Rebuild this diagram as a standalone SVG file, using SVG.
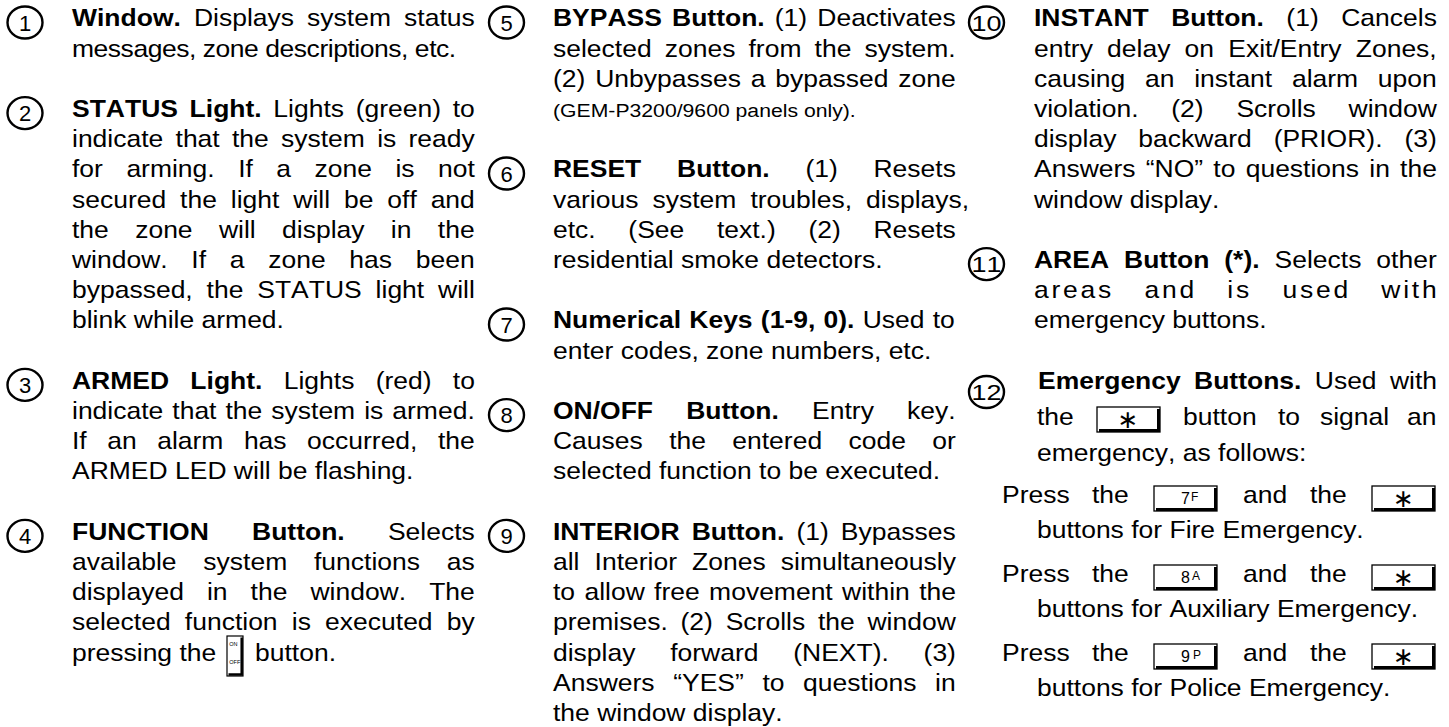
<svg xmlns="http://www.w3.org/2000/svg" width="1449" height="727" viewBox="0 0 1449 727">
<style>
text { font-family: "Liberation Sans", Arial, Helvetica, sans-serif; fill: #000; font-kerning: none; }
.t { font-size: 24px; }
.b { font-weight: bold; }
.sm { font-size: 19.2px; }
.num { font-size: 22px; text-anchor: middle; }
.ring { fill: none; stroke: #000; stroke-width: 2.4; }
.kbody { fill: #fff; stroke: #000; stroke-width: 1.3; }
.kedge { fill: none; stroke: #000; stroke-width: 3; }
.klbl { font-size: 16px; }
.klet { font-size: 12px; }
.star { font-family: "DejaVu Sans", sans-serif; font-size: 25px; text-anchor: middle; dominant-baseline: central; }
.tiny { font-size: 5.5px; }
</style>
<defs>
  <g id="keybox">
    <rect class="kbody" x="0" y="0" width="63" height="25"/>
    <path class="kedge" d="M2 23.5 H61.5 V2"/>
  </g>
</defs>
<rect width="1449" height="727" fill="#fff"/>
<g id="connectors"></g>

<!-- LEFT COLUMN -->
<g id="item-1">
  <ellipse class="ring" cx="25" cy="22.5" rx="17.5" ry="16"/>
  <text class="num" x="25" y="30.5">1</text>
  <g transform="translate(72,0) scale(1.104,1)">
    <text class="t" y="26.5" word-spacing="5.2"><tspan class="b">Window.</tspan> Displays system status</text>
    <text class="t" y="56.7" textLength="348" lengthAdjust="spacing">messages, zone descriptions, etc.</text>
  </g>
</g>
<g id="item-2">
  <ellipse class="ring" cx="25" cy="113.1" rx="17.5" ry="16"/>
  <text class="num" x="25" y="121.1">2</text>
  <g transform="translate(72,0) scale(1.104,1)">
    <text class="t" y="117.1" word-spacing="3.9"><tspan class="b">STATUS Light.</tspan> Lights (green) to</text>
    <text class="t" y="147.3" word-spacing="4.44">indicate that the system is ready</text>
    <text class="t" y="177.5" word-spacing="14.6">for arming. If a zone is not</text>
    <text class="t" y="207.7" word-spacing="5.92">secured the light will be off and</text>
    <text class="t" y="237.9" word-spacing="17.2">the zone will display in the</text>
    <text class="t" y="268.1" word-spacing="14.8">window. If a zone has been</text>
    <text class="t" y="298.3" word-spacing="5.9">bypassed, the STATUS light will</text>
    <text class="t" y="328.5">blink while armed.</text>
  </g>
</g>
<g id="item-3">
  <ellipse class="ring" cx="25" cy="384.9" rx="17.5" ry="16"/>
  <text class="num" x="25" y="392.9">3</text>
  <g transform="translate(72,0) scale(1.104,1)">
    <text class="t" y="388.9" word-spacing="12.6"><tspan class="b">ARMED Light.</tspan> Lights (red) to</text>
    <text class="t" y="419.1" word-spacing="1.5">indicate that the system is armed.</text>
    <text class="t" y="449.3" word-spacing="11.9">If an alarm has occurred, the</text>
    <text class="t" y="479.5">ARMED LED will be flashing.</text>
  </g>
</g>
<g id="item-4">
  <ellipse class="ring" cx="25" cy="535.9" rx="17.5" ry="16"/>
  <text class="num" x="25" y="543.9">4</text>
  <g transform="translate(72,0) scale(1.104,1)">
    <text class="t" y="539.9" word-spacing="32.5"><tspan class="b">FUNCTION Button.</tspan> Selects</text>
    <text class="t" y="570.1" word-spacing="17.6">available system functions as</text>
    <text class="t" y="600.3" word-spacing="14.2">displayed in the window. The</text>
    <text class="t" y="630.5" word-spacing="6.2">selected function is executed by</text>
    <text class="t" y="660.7">pressing the</text>
    <text class="t" x="165.8" y="660.7">button.</text>
  </g>
  <g id="onoff-icon">
    <rect x="227" y="636" width="16" height="40" fill="#fff" stroke="#000" stroke-width="1.2"/>
    <path d="M228.5 674.5 H241.7 V637.5" fill="none" stroke="#000" stroke-width="2.5"/>
    <text class="tiny" x="229.3" y="646">ON</text>
    <text class="tiny" x="229.3" y="664">OFF</text>
  </g>
</g>

<!-- MIDDLE COLUMN -->
<g id="item-5">
  <ellipse class="ring" cx="506.5" cy="22.5" rx="17.5" ry="16"/>
  <text class="num" x="506.5" y="30.5">5</text>
  <g transform="translate(553,0) scale(1.104,1)">
    <text class="t" y="26.5" word-spacing="2.5"><tspan class="b">BYPASS Button.</tspan> (1) Deactivates</text>
    <text class="t" y="56.7" word-spacing="5.2">selected zones from the system.</text>
    <text class="t" y="86.9" word-spacing="2.2">(2) Unbypasses a bypassed zone</text>
    <text class="sm" y="117.1">(GEM-P3200/9600 panels only).</text>
  </g>
</g>
<g id="item-6">
  <ellipse class="ring" cx="506.5" cy="173.5" rx="17.5" ry="16"/>
  <text class="num" x="506.5" y="181.5">6</text>
  <g transform="translate(553,0) scale(1.104,1)">
    <text class="t" y="177.5" word-spacing="25.7"><tspan class="b">RESET Button.</tspan> (1) Resets</text>
    <text class="t" y="207.7" word-spacing="6.1">various system troubles, displays,</text>
    <text class="t" y="237.9" word-spacing="22.9">etc. (See text.) (2) Resets</text>
    <text class="t" y="268.1">residential smoke detectors.</text>
  </g>
</g>
<g id="item-7">
  <ellipse class="ring" cx="506.5" cy="324.5" rx="17.5" ry="16"/>
  <text class="num" x="506.5" y="332.5">7</text>
  <g transform="translate(553,0) scale(1.104,1)">
    <text class="t" y="328.5" word-spacing="0.8"><tspan class="b">Numerical Keys (1-9, 0).</tspan> Used to</text>
    <text class="t" y="358.7">enter codes, zone numbers, etc.</text>
  </g>
</g>
<g id="item-8">
  <ellipse class="ring" cx="506.5" cy="415.1" rx="17.5" ry="16"/>
  <text class="num" x="506.5" y="423.1">8</text>
  <g transform="translate(553,0) scale(1.104,1)">
    <text class="t" y="419.1" word-spacing="23.4"><tspan class="b">ON/OFF Button.</tspan> Entry key.</text>
    <text class="t" y="449.3" word-spacing="17.2">Causes the entered code or</text>
    <text class="t" y="479.5">selected function to be executed.</text>
  </g>
</g>
<g id="item-9">
  <ellipse class="ring" cx="506.5" cy="535.9" rx="17.5" ry="16"/>
  <text class="num" x="506.5" y="543.9">9</text>
  <g transform="translate(553,0) scale(1.104,1)">
    <text class="t" y="539.9" word-spacing="4.3"><tspan class="b">INTERIOR Button.</tspan> (1) Bypasses</text>
    <text class="t" y="570.1" word-spacing="7.0">all Interior Zones simultaneously</text>
    <text class="t" y="600.3" word-spacing="1.8">to allow free movement within the</text>
    <text class="t" y="630.5" word-spacing="4.9">premises. (2) Scrolls the window</text>
    <text class="t" y="660.7" word-spacing="24.8">display forward (NEXT). (3)</text>
    <text class="t" y="690.9" word-spacing="10.2">Answers “YES” to questions in</text>
    <text class="t" y="721.1">the window display.</text>
  </g>
</g>

<!-- RIGHT COLUMN -->
<g id="item-10">
  <ellipse class="ring" cx="986.5" cy="22.5" rx="17.5" ry="16"/>
  <text class="num" x="986.5" y="30.5" textLength="30" lengthAdjust="spacingAndGlyphs">10</text>
  <g transform="translate(1034,0) scale(1.104,1)">
    <text class="t" y="26.5" word-spacing="13.7"><tspan class="b">INSTANT Button.</tspan> (1) Cancels</text>
    <text class="t" y="56.7" word-spacing="6.2">entry delay on Exit/Entry Zones,</text>
    <text class="t" y="86.9" word-spacing="11.2">causing an instant alarm upon</text>
    <text class="t" y="117.1" word-spacing="23.0">violation. (2) Scrolls window</text>
    <text class="t" y="147.3" word-spacing="13.2">display backward (PRIOR). (3)</text>
    <text class="t" y="177.5" word-spacing="2.6">Answers “NO” to questions in the</text>
    <text class="t" y="207.7">window display.</text>
  </g>
</g>
<g id="item-11">
  <ellipse class="ring" cx="986.5" cy="264.1" rx="17.5" ry="16"/>
  <text class="num" x="986.5" y="272.1" textLength="30" lengthAdjust="spacingAndGlyphs">11</text>
  <g transform="translate(1034,0) scale(1.104,1)">
    <text class="t" y="268.1" word-spacing="6.9"><tspan class="b">AREA Button (*).</tspan> Selects other</text>
    <text class="t" y="298.3" letter-spacing="2.5" word-spacing="18.4">areas and is used with</text>
    <text class="t" y="328.5">emergency buttons.</text>
  </g>
</g>
<g id="item-12">
  <ellipse class="ring" cx="986.5" cy="392" rx="17.5" ry="16"/>
  <text class="num" x="986.5" y="400" textLength="30" lengthAdjust="spacingAndGlyphs">12</text>
  <g transform="translate(1034,0) scale(1.104,1)">
    <text class="t" x="3.6" y="388.9" word-spacing="5.4"><tspan class="b">Emergency Buttons.</tspan> Used with</text>
    <text class="t" x="2.7" y="425">the</text>
    <text class="t" x="135" y="425">button</text>
    <text class="t" x="221" y="425">to</text>
    <text class="t" x="259" y="425">signal</text>
    <text class="t" x="337.9" y="425">an</text>
    <text class="t" x="2.7" y="461">emergency, as follows:</text>
    <text class="t" x="-29" y="503">Press</text>
    <text class="t" x="52.5" y="503">the</text>
    <text class="t" x="189.3" y="503">and</text>
    <text class="t" x="250" y="503">the</text>
    <text class="t" x="2.7" y="538">buttons for Fire Emergency.</text>
    <text class="t" x="-29" y="582">Press</text>
    <text class="t" x="52.5" y="582">the</text>
    <text class="t" x="189.3" y="582">and</text>
    <text class="t" x="250" y="582">the</text>
    <text class="t" x="2.7" y="617">buttons for Auxiliary Emergency.</text>
    <text class="t" x="-29" y="661">Press</text>
    <text class="t" x="52.5" y="661">the</text>
    <text class="t" x="189.3" y="661">and</text>
    <text class="t" x="250" y="661">the</text>
    <text class="t" x="2.7" y="696">buttons for Police Emergency.</text>
  </g>
  <g id="keys">
    <use href="#keybox" x="1097" y="407"/>
    <text class="star" x="1128" y="419.5">∗</text>

    <use href="#keybox" x="1154" y="486"/>
    <text class="klbl" x="1181" y="503.5">7<tspan class="klet" dx="1" dy="-2.5">F</tspan></text>
    <use href="#keybox" x="1372" y="486"/>
    <text class="star" x="1403.5" y="498.5">∗</text>

    <use href="#keybox" x="1154" y="565"/>
    <text class="klbl" x="1181" y="582.5">8<tspan class="klet" dx="2" dy="-2.5">A</tspan></text>
    <use href="#keybox" x="1372" y="565"/>
    <text class="star" x="1403.5" y="577.5">∗</text>

    <use href="#keybox" x="1154" y="644"/>
    <text class="klbl" x="1181" y="661.5">9<tspan class="klet" dx="3" dy="-2.5">P</tspan></text>
    <use href="#keybox" x="1372" y="644"/>
    <text class="star" x="1403.5" y="656.5">∗</text>
  </g>
</g>
</svg>
